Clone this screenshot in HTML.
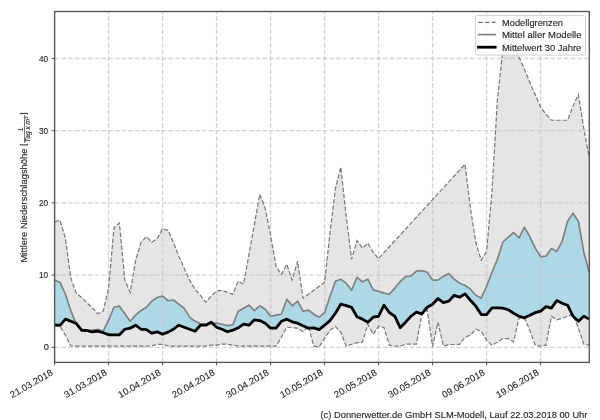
<!DOCTYPE html><html><head><meta charset="utf-8"><style>html,body{margin:0;padding:0;background:#fff;}svg{display:block;}text{font-family:"Liberation Sans",sans-serif;fill:#1a1a1a;stroke:#1a1a1a;stroke-width:0.1px;}svg{will-change:transform;}</style></head><body>
<svg width="600" height="420" viewBox="0 0 600 420">
<rect x="0" y="0" width="600" height="420" fill="#fff"/>
<polygon points="54.60,221.82 60.00,220.23 65.40,238.28 70.80,277.99 76.20,293.15 81.60,297.48 87.00,302.90 92.40,307.95 97.80,313.73 103.20,311.20 108.60,288.10 114.00,227.45 119.40,223.12 124.80,280.15 130.20,292.43 135.60,260.66 141.00,242.25 146.40,236.62 151.80,242.25 157.20,238.64 162.60,228.60 168.00,230.34 173.40,242.25 178.80,256.33 184.20,268.24 189.60,280.15 195.00,289.18 200.40,295.32 205.80,302.18 211.20,296.04 216.60,290.98 222.00,290.26 227.40,292.43 232.80,294.23 238.20,281.24 243.60,284.12 249.00,254.16 254.40,224.20 259.80,194.24 265.20,208.17 270.60,235.39 276.00,266.44 281.40,274.38 286.80,264.27 292.20,280.15 297.60,261.17 303.00,298.20 308.40,294.23 313.80,290.26 319.20,286.22 324.60,282.32 330.00,233.22 335.40,188.46 340.80,167.16 346.20,216.62 351.60,259.22 357.00,240.59 362.40,248.17 367.80,243.19 373.20,252.21 378.60,258.57 384.00,252.67 389.40,246.77 394.80,240.87 400.20,234.97 405.60,229.08 411.00,223.18 416.40,217.28 421.80,211.38 427.20,205.49 432.60,199.59 438.00,193.69 443.40,187.79 448.80,181.89 454.20,176.00 459.60,170.10 465.00,164.20 470.40,207.95 475.80,242.25 481.20,260.23 486.60,251.27 492.00,191.35 497.40,99.65 502.80,50.56 508.20,26.73 513.60,42.62 519.00,57.06 524.40,69.33 529.80,82.33 535.20,94.60 540.60,107.24 546.00,114.09 551.40,120.23 556.80,120.23 562.20,120.23 567.60,120.23 573.00,106.15 578.40,94.60 583.80,128.53 589.20,157.41 589.20,345.21 583.80,344.20 578.40,328.17 573.00,314.59 567.60,316.25 562.20,318.20 556.80,319.86 551.40,316.25 546.00,345.21 540.60,346.22 535.20,345.21 529.80,330.19 524.40,318.20 519.00,318.20 513.60,341.81 508.20,338.64 502.80,338.64 497.40,342.25 492.00,345.21 486.60,340.22 481.20,331.20 475.80,329.25 470.40,335.17 465.00,337.19 459.60,344.41 454.20,344.48 448.80,344.48 443.40,346.00 438.00,322.17 432.60,346.58 427.20,309.76 421.80,314.52 416.40,344.05 411.00,344.05 405.60,344.20 400.20,346.22 394.80,346.22 389.40,345.21 384.00,327.59 378.60,326.22 373.20,334.30 367.80,324.20 362.40,342.25 357.00,342.61 351.60,344.20 346.20,346.22 340.80,332.14 335.40,326.58 330.00,330.19 324.60,338.20 319.20,346.79 313.80,346.22 308.40,326.22 303.00,331.78 297.60,328.17 292.20,327.81 286.80,327.23 281.40,337.19 276.00,346.22 270.60,346.22 265.20,346.22 259.80,346.22 254.40,346.22 249.00,346.22 243.60,346.22 238.20,346.22 232.80,345.13 227.40,344.20 222.00,344.20 216.60,345.13 211.20,345.13 205.80,346.22 200.40,346.22 195.00,346.22 189.60,346.22 184.20,346.22 178.80,346.22 173.40,346.22 168.00,345.86 162.60,344.41 157.20,344.41 151.80,345.86 146.40,346.22 141.00,346.22 135.60,346.22 130.20,346.22 124.80,346.22 119.40,346.22 114.00,346.22 108.60,346.22 103.20,346.22 97.80,346.22 92.40,346.22 87.00,346.22 81.60,346.22 76.20,346.22 70.80,345.86 65.40,335.17 60.00,326.36 54.60,325.78" fill="#e5e5e5" stroke="none"/>
<polygon points="54.60,280.15 60.00,282.32 65.40,294.23 70.80,310.48 76.20,324.20 81.60,329.25 87.00,330.26 92.40,330.26 97.80,329.25 103.20,331.20 108.60,320.23 114.00,307.23 119.40,306.15 124.80,313.80 130.20,321.31 135.60,315.17 141.00,310.48 146.40,307.23 151.80,301.09 157.20,297.48 162.60,296.04 168.00,300.73 173.40,300.01 178.80,304.20 184.20,308.31 189.60,317.19 195.00,321.31 200.40,323.84 205.80,324.20 211.20,323.19 216.60,323.19 222.00,324.20 227.40,325.64 232.80,324.92 238.20,311.20 243.60,308.31 249.00,305.21 254.40,310.62 259.80,305.79 265.20,309.18 270.60,316.25 276.00,315.17 281.40,314.23 286.80,299.21 292.20,305.79 297.60,301.09 303.00,311.20 308.40,310.19 313.80,314.23 319.20,317.19 324.60,312.64 330.00,296.18 335.40,281.24 340.80,279.22 346.20,283.19 351.60,290.26 357.00,277.27 362.40,281.81 367.80,279.22 373.20,289.83 378.60,291.20 384.00,293.15 389.40,294.23 394.80,288.10 400.20,281.60 405.60,276.54 411.00,275.82 416.40,271.20 421.80,270.62 427.20,272.21 432.60,280.15 438.00,280.15 443.40,276.18 448.80,273.66 454.20,279.22 459.60,283.19 465.00,285.21 470.40,289.18 475.80,295.32 481.20,298.20 486.60,286.22 492.00,272.21 497.40,259.22 502.80,242.25 508.20,237.20 513.60,232.50 519.00,237.77 524.40,227.23 529.80,236.62 535.20,248.17 540.60,256.62 546.00,256.18 551.40,248.60 556.80,251.27 562.20,241.17 567.60,221.17 573.00,213.22 578.40,221.17 583.80,252.21 589.20,272.21 589.20,319.14 583.80,316.25 578.40,321.31 573.00,316.25 567.60,305.21 562.20,303.26 556.80,300.59 551.40,308.17 546.00,306.58 540.60,311.20 535.20,312.64 529.80,315.17 524.40,317.84 519.00,316.25 513.60,313.22 508.20,309.76 502.80,308.17 497.40,307.81 492.00,307.81 486.60,314.59 481.20,314.59 475.80,306.15 470.40,300.23 465.00,293.87 459.60,297.19 454.20,295.32 448.80,301.16 443.40,302.61 438.00,298.56 432.60,304.20 427.20,307.23 421.80,313.80 416.40,312.21 411.00,316.25 405.60,322.17 400.20,327.66 394.80,316.25 389.40,312.64 384.00,305.21 378.60,316.25 373.20,317.19 367.80,322.17 362.40,319.14 357.00,316.83 351.60,307.23 346.20,305.57 340.80,304.20 335.40,313.22 330.00,320.59 324.60,325.21 319.20,329.61 313.80,327.81 308.40,328.17 303.00,325.78 297.60,323.19 292.20,321.81 286.80,319.14 281.40,321.31 276.00,328.17 270.60,328.17 265.20,323.19 259.80,320.59 254.40,319.86 249.00,325.21 243.60,324.20 238.20,327.81 232.80,330.19 227.40,331.78 222.00,329.25 216.60,327.23 211.20,322.17 205.80,325.21 200.40,325.21 195.00,331.20 189.60,329.25 184.20,327.23 178.80,325.21 173.40,329.25 168.00,332.14 162.60,334.30 157.20,331.78 151.80,333.22 146.40,329.61 141.00,329.25 135.60,325.21 130.20,328.17 124.80,329.25 119.40,334.81 114.00,334.81 108.60,334.74 103.20,332.72 97.80,331.13 92.40,331.92 87.00,330.69 81.60,330.26 76.20,323.33 70.80,321.31 65.40,319.14 60.00,325.42 54.60,324.77" fill="#add8e6" stroke="none"/>
<g stroke="#c4c4c4" stroke-opacity="0.72" stroke-width="1.3" stroke-dasharray="4.7 2.0" fill="none"><line x1="54.6" y1="347.30" x2="589.3" y2="347.30"/><line x1="54.6" y1="275.10" x2="589.3" y2="275.10"/><line x1="54.6" y1="202.90" x2="589.3" y2="202.90"/><line x1="54.6" y1="130.70" x2="589.3" y2="130.70"/><line x1="54.6" y1="58.50" x2="589.3" y2="58.50"/><line x1="54.60" y1="362.4" x2="54.60" y2="11.5"/><line x1="108.60" y1="362.4" x2="108.60" y2="11.5"/><line x1="162.60" y1="362.4" x2="162.60" y2="11.5"/><line x1="216.60" y1="362.4" x2="216.60" y2="11.5"/><line x1="270.60" y1="362.4" x2="270.60" y2="11.5"/><line x1="324.60" y1="362.4" x2="324.60" y2="11.5"/><line x1="378.60" y1="362.4" x2="378.60" y2="11.5"/><line x1="432.60" y1="362.4" x2="432.60" y2="11.5"/><line x1="486.60" y1="362.4" x2="486.60" y2="11.5"/><line x1="540.60" y1="362.4" x2="540.60" y2="11.5"/></g>
<polyline points="54.60,221.82 60.00,220.23 65.40,238.28 70.80,277.99 76.20,293.15 81.60,297.48 87.00,302.90 92.40,307.95 97.80,313.73 103.20,311.20 108.60,288.10 114.00,227.45 119.40,223.12 124.80,280.15 130.20,292.43 135.60,260.66 141.00,242.25 146.40,236.62 151.80,242.25 157.20,238.64 162.60,228.60 168.00,230.34 173.40,242.25 178.80,256.33 184.20,268.24 189.60,280.15 195.00,289.18 200.40,295.32 205.80,302.18 211.20,296.04 216.60,290.98 222.00,290.26 227.40,292.43 232.80,294.23 238.20,281.24 243.60,284.12 249.00,254.16 254.40,224.20 259.80,194.24 265.20,208.17 270.60,235.39 276.00,266.44 281.40,274.38 286.80,264.27 292.20,280.15 297.60,261.17 303.00,298.20 308.40,294.23 313.80,290.26 319.20,286.22 324.60,282.32 330.00,233.22 335.40,188.46 340.80,167.16 346.20,216.62 351.60,259.22 357.00,240.59 362.40,248.17 367.80,243.19 373.20,252.21 378.60,258.57 384.00,252.67 389.40,246.77 394.80,240.87 400.20,234.97 405.60,229.08 411.00,223.18 416.40,217.28 421.80,211.38 427.20,205.49 432.60,199.59 438.00,193.69 443.40,187.79 448.80,181.89 454.20,176.00 459.60,170.10 465.00,164.20 470.40,207.95 475.80,242.25 481.20,260.23 486.60,251.27 492.00,191.35 497.40,99.65 502.80,50.56 508.20,26.73 513.60,42.62 519.00,57.06 524.40,69.33 529.80,82.33 535.20,94.60 540.60,107.24 546.00,114.09 551.40,120.23 556.80,120.23 562.20,120.23 567.60,120.23 573.00,106.15 578.40,94.60 583.80,128.53 589.20,157.41" fill="none" stroke="#777" stroke-width="1.2" stroke-dasharray="4.5 1.9"/>
<polyline points="54.60,325.78 60.00,326.36 65.40,335.17 70.80,345.86 76.20,346.22 81.60,346.22 87.00,346.22 92.40,346.22 97.80,346.22 103.20,346.22 108.60,346.22 114.00,346.22 119.40,346.22 124.80,346.22 130.20,346.22 135.60,346.22 141.00,346.22 146.40,346.22 151.80,345.86 157.20,344.41 162.60,344.41 168.00,345.86 173.40,346.22 178.80,346.22 184.20,346.22 189.60,346.22 195.00,346.22 200.40,346.22 205.80,346.22 211.20,345.13 216.60,345.13 222.00,344.20 227.40,344.20 232.80,345.13 238.20,346.22 243.60,346.22 249.00,346.22 254.40,346.22 259.80,346.22 265.20,346.22 270.60,346.22 276.00,346.22 281.40,337.19 286.80,327.23 292.20,327.81 297.60,328.17 303.00,331.78 308.40,326.22 313.80,346.22 319.20,346.79 324.60,338.20 330.00,330.19 335.40,326.58 340.80,332.14 346.20,346.22 351.60,344.20 357.00,342.61 362.40,342.25 367.80,324.20 373.20,334.30 378.60,326.22 384.00,327.59 389.40,345.21 394.80,346.22 400.20,346.22 405.60,344.20 411.00,344.05 416.40,344.05 421.80,314.52 427.20,309.76 432.60,346.58 438.00,322.17 443.40,346.00 448.80,344.48 454.20,344.48 459.60,344.41 465.00,337.19 470.40,335.17 475.80,329.25 481.20,331.20 486.60,340.22 492.00,345.21 497.40,342.25 502.80,338.64 508.20,338.64 513.60,341.81 519.00,318.20 524.40,318.20 529.80,330.19 535.20,345.21 540.60,346.22 546.00,345.21 551.40,316.25 556.80,319.86 562.20,318.20 567.60,316.25 573.00,314.59 578.40,328.17 583.80,344.20 589.20,345.21" fill="none" stroke="#777" stroke-width="1.2" stroke-dasharray="4.5 1.9"/>
<polyline points="54.60,280.15 60.00,282.32 65.40,294.23 70.80,310.48 76.20,324.20 81.60,329.25 87.00,330.26 92.40,330.26 97.80,329.25 103.20,331.20 108.60,320.23 114.00,307.23 119.40,306.15 124.80,313.80 130.20,321.31 135.60,315.17 141.00,310.48 146.40,307.23 151.80,301.09 157.20,297.48 162.60,296.04 168.00,300.73 173.40,300.01 178.80,304.20 184.20,308.31 189.60,317.19 195.00,321.31 200.40,323.84 205.80,324.20 211.20,323.19 216.60,323.19 222.00,324.20 227.40,325.64 232.80,324.92 238.20,311.20 243.60,308.31 249.00,305.21 254.40,310.62 259.80,305.79 265.20,309.18 270.60,316.25 276.00,315.17 281.40,314.23 286.80,299.21 292.20,305.79 297.60,301.09 303.00,311.20 308.40,310.19 313.80,314.23 319.20,317.19 324.60,312.64 330.00,296.18 335.40,281.24 340.80,279.22 346.20,283.19 351.60,290.26 357.00,277.27 362.40,281.81 367.80,279.22 373.20,289.83 378.60,291.20 384.00,293.15 389.40,294.23 394.80,288.10 400.20,281.60 405.60,276.54 411.00,275.82 416.40,271.20 421.80,270.62 427.20,272.21 432.60,280.15 438.00,280.15 443.40,276.18 448.80,273.66 454.20,279.22 459.60,283.19 465.00,285.21 470.40,289.18 475.80,295.32 481.20,298.20 486.60,286.22 492.00,272.21 497.40,259.22 502.80,242.25 508.20,237.20 513.60,232.50 519.00,237.77 524.40,227.23 529.80,236.62 535.20,248.17 540.60,256.62 546.00,256.18 551.40,248.60 556.80,251.27 562.20,241.17 567.60,221.17 573.00,213.22 578.40,221.17 583.80,252.21 589.20,272.21" fill="none" stroke="#808080" stroke-width="1.67" stroke-linejoin="round"/>
<polyline points="54.60,324.77 60.00,325.42 65.40,319.14 70.80,321.31 76.20,323.33 81.60,330.26 87.00,330.69 92.40,331.92 97.80,331.13 103.20,332.72 108.60,334.74 114.00,334.81 119.40,334.81 124.80,329.25 130.20,328.17 135.60,325.21 141.00,329.25 146.40,329.61 151.80,333.22 157.20,331.78 162.60,334.30 168.00,332.14 173.40,329.25 178.80,325.21 184.20,327.23 189.60,329.25 195.00,331.20 200.40,325.21 205.80,325.21 211.20,322.17 216.60,327.23 222.00,329.25 227.40,331.78 232.80,330.19 238.20,327.81 243.60,324.20 249.00,325.21 254.40,319.86 259.80,320.59 265.20,323.19 270.60,328.17 276.00,328.17 281.40,321.31 286.80,319.14 292.20,321.81 297.60,323.19 303.00,325.78 308.40,328.17 313.80,327.81 319.20,329.61 324.60,325.21 330.00,320.59 335.40,313.22 340.80,304.20 346.20,305.57 351.60,307.23 357.00,316.83 362.40,319.14 367.80,322.17 373.20,317.19 378.60,316.25 384.00,305.21 389.40,312.64 394.80,316.25 400.20,327.66 405.60,322.17 411.00,316.25 416.40,312.21 421.80,313.80 427.20,307.23 432.60,304.20 438.00,298.56 443.40,302.61 448.80,301.16 454.20,295.32 459.60,297.19 465.00,293.87 470.40,300.23 475.80,306.15 481.20,314.59 486.60,314.59 492.00,307.81 497.40,307.81 502.80,308.17 508.20,309.76 513.60,313.22 519.00,316.25 524.40,317.84 529.80,315.17 535.20,312.64 540.60,311.20 546.00,306.58 551.40,308.17 556.80,300.59 562.20,303.26 567.60,305.21 573.00,316.25 578.40,321.31 583.80,316.25 589.20,319.14" fill="none" stroke="#000" stroke-width="2.8" stroke-linejoin="round"/>
<rect x="54.6" y="11.5" width="534.70" height="350.90" fill="none" stroke="#555" stroke-width="1.35"/>
<g stroke="#4a4a4a" stroke-width="1.0"><line x1="51.70" y1="347.30" x2="54.6" y2="347.30"/><line x1="51.70" y1="275.10" x2="54.6" y2="275.10"/><line x1="51.70" y1="202.90" x2="54.6" y2="202.90"/><line x1="51.70" y1="130.70" x2="54.6" y2="130.70"/><line x1="51.70" y1="58.50" x2="54.6" y2="58.50"/><line x1="54.60" y1="362.4" x2="54.60" y2="365.30"/><line x1="108.60" y1="362.4" x2="108.60" y2="365.30"/><line x1="162.60" y1="362.4" x2="162.60" y2="365.30"/><line x1="216.60" y1="362.4" x2="216.60" y2="365.30"/><line x1="270.60" y1="362.4" x2="270.60" y2="365.30"/><line x1="324.60" y1="362.4" x2="324.60" y2="365.30"/><line x1="378.60" y1="362.4" x2="378.60" y2="365.30"/><line x1="432.60" y1="362.4" x2="432.60" y2="365.30"/><line x1="486.60" y1="362.4" x2="486.60" y2="365.30"/><line x1="540.60" y1="362.4" x2="540.60" y2="365.30"/></g>
<text x="48.90" y="350.40" font-size="9.2" text-anchor="end" textLength="5.17" lengthAdjust="spacingAndGlyphs">0</text>
<text x="48.20" y="278.20" font-size="9.2" text-anchor="end" textLength="9.17" lengthAdjust="spacingAndGlyphs">10</text>
<text x="48.20" y="206.00" font-size="9.2" text-anchor="end" textLength="9.17" lengthAdjust="spacingAndGlyphs">20</text>
<text x="48.20" y="133.80" font-size="9.2" text-anchor="end" textLength="9.17" lengthAdjust="spacingAndGlyphs">30</text>
<text x="48.20" y="61.60" font-size="9.2" text-anchor="end" textLength="9.17" lengthAdjust="spacingAndGlyphs">40</text>
<text transform="translate(53.60,374.40) rotate(-30)" x="0" y="0" font-size="9.2" text-anchor="end" textLength="47.71" lengthAdjust="spacingAndGlyphs">21.03.2018</text>
<text transform="translate(107.60,374.40) rotate(-30)" x="0" y="0" font-size="9.2" text-anchor="end" textLength="47.71" lengthAdjust="spacingAndGlyphs">31.03.2018</text>
<text transform="translate(161.60,374.40) rotate(-30)" x="0" y="0" font-size="9.2" text-anchor="end" textLength="47.71" lengthAdjust="spacingAndGlyphs">10.04.2018</text>
<text transform="translate(215.60,374.40) rotate(-30)" x="0" y="0" font-size="9.2" text-anchor="end" textLength="47.71" lengthAdjust="spacingAndGlyphs">20.04.2018</text>
<text transform="translate(269.60,374.40) rotate(-30)" x="0" y="0" font-size="9.2" text-anchor="end" textLength="47.71" lengthAdjust="spacingAndGlyphs">30.04.2018</text>
<text transform="translate(323.60,374.40) rotate(-30)" x="0" y="0" font-size="9.2" text-anchor="end" textLength="47.71" lengthAdjust="spacingAndGlyphs">10.05.2018</text>
<text transform="translate(377.60,374.40) rotate(-30)" x="0" y="0" font-size="9.2" text-anchor="end" textLength="47.71" lengthAdjust="spacingAndGlyphs">20.05.2018</text>
<text transform="translate(431.60,374.40) rotate(-30)" x="0" y="0" font-size="9.2" text-anchor="end" textLength="47.71" lengthAdjust="spacingAndGlyphs">30.05.2018</text>
<text transform="translate(485.60,374.40) rotate(-30)" x="0" y="0" font-size="9.2" text-anchor="end" textLength="47.71" lengthAdjust="spacingAndGlyphs">09.06.2018</text>
<text transform="translate(539.60,374.40) rotate(-30)" x="0" y="0" font-size="9.2" text-anchor="end" textLength="47.71" lengthAdjust="spacingAndGlyphs">19.06.2018</text>
<text transform="translate(27.3,262.5) rotate(-90)" x="0" y="0" font-size="9.2" textLength="114.06" lengthAdjust="spacingAndGlyphs">Mittlere Niederschlagshöhe</text>
<g stroke="#1a1a1a" stroke-width="0.95" fill="none"><polyline points="20.3,114.4 20.3,113.4 27.6,113.4 27.6,114.4"/><polyline points="20.3,143.9 20.3,144.9 27.6,144.9 27.6,143.9"/><line x1="24.5" y1="115.3" x2="24.5" y2="142.7" stroke-width="0.6"/></g>
<g transform="rotate(-90)" font-style="italic"><text x="-128.9" y="22.8" font-size="6.4" text-anchor="middle">L</text><text x="-142.2" y="30.3" font-size="6.3" textLength="23.2" lengthAdjust="spacingAndGlyphs">Tag x m</text><text x="-118.8" y="28.0" font-size="4.3" font-style="normal">2</text></g>
<rect x="475.4" y="15.6" width="110" height="39.5" rx="2" ry="2" fill="#fff" fill-opacity="0.8" stroke="#cccccc" stroke-width="0.9"/>
<line x1="478.3" y1="22.4" x2="495.6" y2="22.4" stroke="#6e6e6e" stroke-width="1.2" stroke-dasharray="4.4 2.4"/>
<line x1="478.5" y1="34.6" x2="495.2" y2="34.6" stroke="#808080" stroke-width="1.67" stroke-linecap="square"/>
<line x1="478.5" y1="47.2" x2="495.2" y2="47.2" stroke="#000" stroke-width="2.8" stroke-linecap="square"/>
<text x="502.0" y="25.7" font-size="9.2" textLength="61.06" lengthAdjust="spacingAndGlyphs">Modellgrenzen</text>
<text x="502.0" y="37.9" font-size="9.2" textLength="79.53" lengthAdjust="spacingAndGlyphs">Mittel aller Modelle</text>
<text x="502.0" y="50.6" font-size="9.2" textLength="79.23" lengthAdjust="spacingAndGlyphs">Mittelwert 30 Jahre</text>
<text x="320.5" y="418.0" font-size="9.2" textLength="266.91" lengthAdjust="spacingAndGlyphs">(c) Donnerwetter.de GmbH SLM-Modell, Lauf 22.03.2018 00 Uhr</text>
</svg></body></html>
